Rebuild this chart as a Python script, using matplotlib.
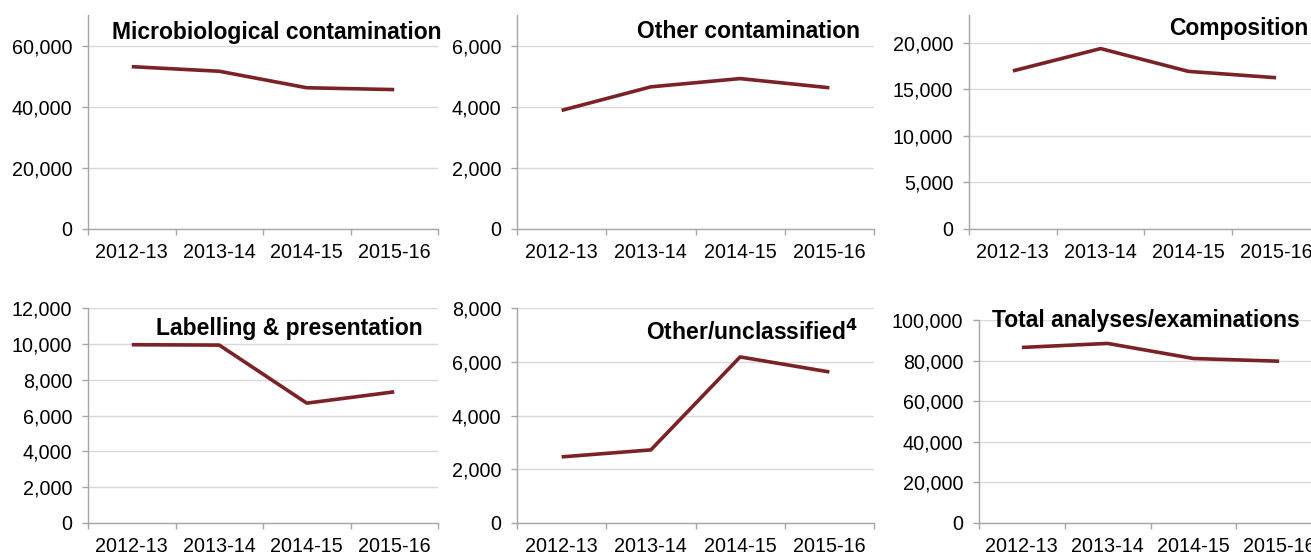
import matplotlib
matplotlib.use("Agg")
import matplotlib.pyplot as plt
from matplotlib.ticker import FuncFormatter

plt.rcParams['font.family'] = ['Liberation Sans', 'DejaVu Sans']

years = ["2012-13", "2013-14", "2014-15", "2015-16"]

microbiological = [53100, 51600, 46200, 45600]
other_contamination = [3880, 4650, 4920, 4620]
composition = [16990, 19390, 16940, 16260]
labelling = [9950, 9930, 6690, 7320]
other_unclassified = [2460, 2720, 6180, 5620]
total = [86480, 88460, 81040, 79700]

W, H = 1311, 554
fig = plt.figure(figsize=(W / 100, H / 100), dpi=100)

LINE = "#7B2226"
AXIS = "#A6A6A6"
GRID = "#D9D9D9"


def px_axes(x0, y_top, x1, y_bottom):
    return fig.add_axes([x0 / W, 1 - y_bottom / H, (x1 - x0) / W, (y_bottom - y_top) / H])


def panel(box, values, ymax, step, title, tx, ty, ha="left"):
    ax = px_axes(*box)
    x = [i + 0.5 for i in range(len(values))]
    ax.plot(x, values, color=LINE, lw=2.6, solid_capstyle="butt", zorder=3)
    ax.set_xlim(0, len(values))
    ax.set_ylim(0, ymax)
    ticks = list(range(0, ymax + 1, step))
    ax.set_yticks(ticks)
    ax.yaxis.set_major_formatter(FuncFormatter(lambda v, p: f"{int(v):,}"))
    ax.set_xticks(range(len(values) + 1))
    ax.set_xticklabels([])
    ax.set_xticks(x, minor=True)
    ax.set_xticklabels(years, minor=True)
    ax.tick_params(axis="x", which="minor", length=0, pad=10, labelsize=14.2, colors="black")
    ax.tick_params(axis="x", which="major", length=4.3, color=AXIS, width=1)
    ax.tick_params(axis="y", length=4.3, color=AXIS, width=1, labelsize=14.2, pad=7)
    ax.tick_params(axis="y", colors=AXIS, labelcolor="black")
    ax.grid(axis="y", color=GRID, lw=1, zorder=0)
    for s in ("top", "right"):
        ax.spines[s].set_visible(False)
    for s in ("left", "bottom"):
        ax.spines[s].set_color(AXIS)
        ax.spines[s].set_linewidth(1)
    ax.set_facecolor("none")
    fig.text(tx / W, 1 - ty / H, title, fontsize=16.5, fontweight="bold",
             ha=ha, va="center", color="black")
    return ax


panel((88, 15, 438, 229), microbiological, 70000, 20000,
      "Microbiological contamination", 112, 32)
panel((517, 15, 874, 229), other_contamination, 7000, 2000,
      "Other contamination", 860, 32, ha="right")
panel((969, 15, 1320, 229), composition, 23000, 5000,
      "Composition", 1308, 28, ha="right")
panel((88, 308, 438, 523), labelling, 12000, 2000,
      "Labelling & presentation", 423, 328, ha="right")
panel((517, 308, 874, 523), other_unclassified, 8000, 2000,
      "Other/unclassified$^{\\mathbf{4}}$", 858, 332, ha="right")
panel((979, 320, 1322, 523), total, 100000, 20000,
      "Total analyses/examinations", 1300, 320, ha="right")

fig.savefig("out.png", dpi=100, facecolor="white")
